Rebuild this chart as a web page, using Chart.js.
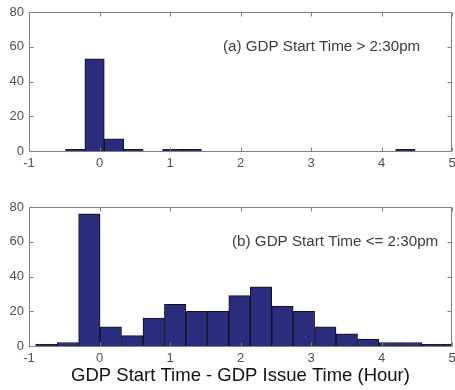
<!DOCTYPE html>
<html>
<head>
<meta charset="utf-8">
<script src="https://cdn.jsdelivr.net/npm/chart.js@4.4.0/dist/chart.umd.min.js"></script>
<style>
body { margin: 0; background: #fff; }
#wrap { position: relative; width: 455px; height: 390px; }
canvas { position: absolute; left: 0; }
</style>
</head>
<body>
<div id="wrap">
  <canvas id="chartA" width="455" height="180" style="top:0px"></canvas>
  <canvas id="chartB" width="455" height="200" style="top:190px"></canvas>
</div>
<script>
// bin centres (hours) and counts
const binsA = [-0.345, -0.07, 0.206, 0.482, 0.757, 1.033, 1.308, 1.584, 1.859,
               2.135, 2.41, 2.686, 2.961, 3.237, 3.512, 3.788, 4.063, 4.339];
const countsA = [1, 53, 7, 1, 0, 1, 1, 0, 0, 0, 0, 0, 0, 0, 0, 0, 0, 1];

const binsB = [-0.753, -0.449, -0.144, 0.160, 0.464, 0.769, 1.073, 1.377, 1.682, 1.986,
               2.290, 2.595, 2.899, 3.203, 3.508, 3.812, 4.116, 4.421, 4.725, 5.029];
const countsB = [1, 2, 76, 11, 6, 16, 24, 20, 20, 29, 34, 23, 20, 11, 7, 4, 2, 2, 1, 1];

const xRange = [-1, 5];
const yRange = [0, 80];
const labelA = '(a) GDP Start Time > 2:30pm';
const labelB = '(b) GDP Start Time <= 2:30pm';
const labelPos = { a: [1.75, 60], b: [1.88, 60] };
const xTitle = 'GDP Start Time - GDP Issue Time (Hour)';

Chart.defaults.font.family = '"Liberation Sans", Arial, sans-serif';

const barFill = 'rgb(42,45,125)';
const frameColor = '#808080';
const tickColor = '#505050';

// matlab style box with inward ticks on all sides, plus the text label
const matlabBox = {
    id: 'matlabBox',
    afterDraw(chart, args, opts) {
        const ctx = chart.ctx;
        const a = chart.chartArea;
        const xs = chart.scales.x, ys = chart.scales.y;
        const L = Math.round(a.left) + 0.5, R = Math.round(a.right) - 0.5;
        const T = Math.round(a.top) + 0.5, B = Math.round(a.bottom) + 0.5;
        ctx.save();
        ctx.strokeStyle = frameColor;
        ctx.lineWidth = 1;
        ctx.beginPath();
        ctx.rect(L, T, R - L, B - T);
        const len = 4;
        xs.ticks.forEach(t => {
            const px = Math.round(xs.getPixelForValue(t.value)) + 0.5;
            ctx.moveTo(px, B); ctx.lineTo(px, B - len);
            ctx.moveTo(px, T); ctx.lineTo(px, T + len);
        });
        ys.ticks.forEach(t => {
            const py = Math.round(ys.getPixelForValue(t.value)) + 0.5;
            ctx.moveTo(L, py); ctx.lineTo(L + len, py);
            ctx.moveTo(R, py); ctx.lineTo(R - len, py);
        });
        ctx.stroke();
        // panel label
        ctx.fillStyle = '#3c3c3c';
        ctx.font = '15.2px "Liberation Sans", Arial, sans-serif';
        ctx.textAlign = 'left';
        ctx.textBaseline = 'middle';
        ctx.fillText(opts.text, xs.getPixelForValue(opts.pos[0]), ys.getPixelForValue(opts.pos[1]));
        ctx.restore();
    }
};

function noPad(s) {
    s.paddingLeft = 0; s.paddingRight = 0;
    s.paddingTop = 0; s.paddingBottom = 0;
}

function makeHist(id, bins, counts, label, pos, areaTop, axisH, withTitle) {
    const pts = bins.map((b, i) => ({ x: b, y: counts[i] > 0 ? counts[i] : null }));
    return new Chart(document.getElementById(id), {
        type: 'bar',
        data: {
            datasets: [{
                data: pts,
                backgroundColor: barFill,
                borderColor: '#111',
                borderWidth: 1,
                barPercentage: 1,
                categoryPercentage: 1,
                clip: 0
            }]
        },
        options: {
            responsive: false,
            animation: false,
            events: [],
            layout: { padding: { top: areaTop, right: 3, left: 0, bottom: 0 } },
            plugins: {
                legend: { display: false },
                tooltip: { enabled: false },
                matlabBox: { text: label, pos: pos }
            },
            scales: {
                x: {
                    type: 'linear',
                    min: xRange[0], max: xRange[1],
                    offset: false,
                    grid: { display: false, offset: false, drawTicks: false },
                    border: { display: false },
                    ticks: { stepSize: 1, color: tickColor, font: { size: 13 }, padding: 5, maxRotation: 0 },
                    title: {
                        display: withTitle,
                        text: xTitle,
                        color: '#111',
                        font: { size: 18.5 },
                        padding: { top: 0, bottom: 3 }
                    },
                    afterFit: s => { s.height = axisH; noPad(s); }
                },
                y: {
                    min: yRange[0], max: yRange[1],
                    grid: { display: false, drawTicks: false },
                    border: { display: false },
                    ticks: { stepSize: 20, color: tickColor, font: { size: 13 }, padding: 5 },
                    afterFit: s => { s.width = 29; noPad(s); }
                }
            }
        },
        plugins: [matlabBox]
    });
}

makeHist('chartA', binsA, countsA, labelA, labelPos.a, 12, 29, false);
makeHist('chartB', binsB, countsB, labelB, labelPos.b, 17, 44, true);
</script>
</body>
</html>
